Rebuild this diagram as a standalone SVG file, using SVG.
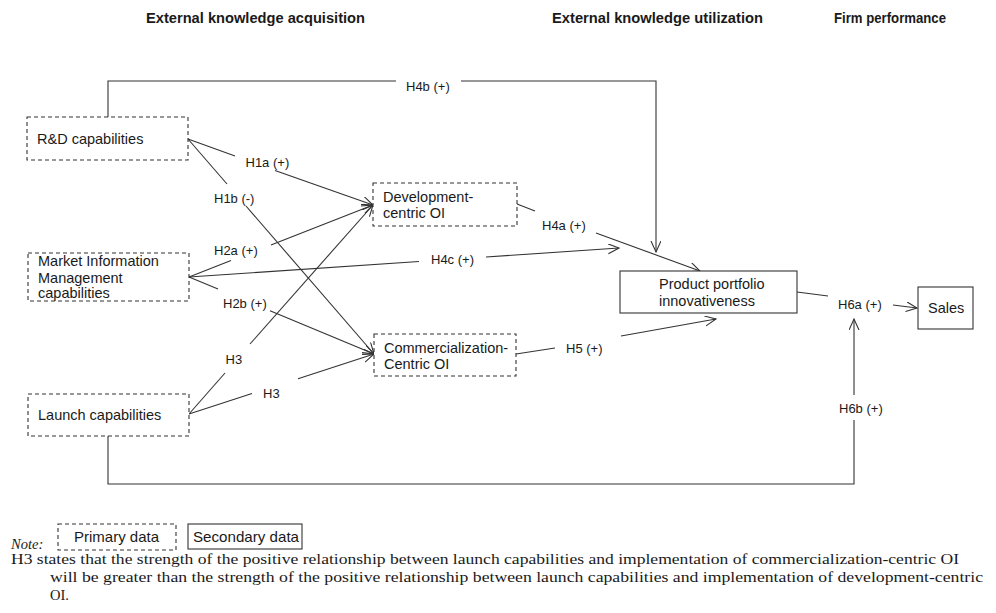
<svg xmlns="http://www.w3.org/2000/svg" width="996" height="613" viewBox="0 0 996 613">
<style>
.bg{fill:#fff}
.hdr{font-family:"Liberation Sans",Arial,sans-serif;font-weight:bold;font-size:14.5px;fill:#1a1a1a}
.nt{font-family:"Liberation Sans",Arial,sans-serif;font-size:14.5px;fill:#1a1a1a}
.lb{font-family:"Liberation Sans",Arial,sans-serif;font-size:13px;fill:#1a1a1a}
.lg{font-family:"Liberation Sans",Arial,sans-serif;font-size:15px;fill:#1a1a1a}
.note{font-family:"Liberation Serif","Times New Roman",serif;font-size:14.5px;fill:#1a1a1a}
.dash{fill:#fff;stroke:#333;stroke-width:1.1;stroke-dasharray:4 3}
.solid{fill:#fff;stroke:#333;stroke-width:1.1}
.ln{fill:none;stroke:#333;stroke-width:1.1}
.arr{fill:none;stroke:#333;stroke-width:1.1;marker-end:url(#ah)}
</style>
<defs>
<marker id="ah" markerUnits="userSpaceOnUse" markerWidth="14" markerHeight="12" refX="11" refY="5" orient="auto">
<path d="M0,0 L11,5 L0,10" fill="none" stroke="#333" stroke-width="1.1"/>
</marker>
</defs>
<rect class="bg" x="0" y="0" width="996" height="613"/>

<g id="headers">
<text class="hdr" x="146" y="23" textLength="219" lengthAdjust="spacingAndGlyphs">External knowledge acquisition</text>
<text class="hdr" x="552" y="23" textLength="211" lengthAdjust="spacingAndGlyphs">External knowledge utilization</text>
<text class="hdr" x="834" y="23" textLength="112" lengthAdjust="spacingAndGlyphs">Firm performance</text>
</g>

<g id="connectors">
<!-- H4b -->
<polyline class="ln" points="108,117 108,81 396,81"/>
<polyline class="arr" points="461,81 656,81 656,252"/>
<!-- H1a -->
<line class="ln" x1="188" y1="139" x2="235" y2="156"/>
<line class="arr" x1="275" y1="170.5" x2="373" y2="205"/>
<!-- H1b -->
<line class="ln" x1="188" y1="139" x2="227" y2="184"/>
<line class="arr" x1="246" y1="206" x2="374" y2="354"/>
<!-- H2a -->
<line class="ln" x1="189" y1="277" x2="231" y2="260.6"/>
<line class="arr" x1="271" y1="245" x2="373" y2="205"/>
<!-- H2b -->
<line class="ln" x1="189" y1="277" x2="218" y2="289"/>
<line class="arr" x1="270" y1="310.7" x2="374" y2="354"/>
<!-- H4c -->
<line class="ln" x1="189" y1="277" x2="419" y2="261.5"/>
<line class="arr" x1="486" y1="257" x2="619" y2="248"/>
<!-- H3 to dev -->
<line class="ln" x1="189" y1="414" x2="225" y2="373"/>
<line class="arr" x1="250" y1="344" x2="373" y2="205"/>
<!-- H3 to comm -->
<line class="ln" x1="189" y1="414" x2="252" y2="393.6"/>
<line class="arr" x1="298" y1="378.7" x2="374" y2="354"/>
<!-- H4a -->
<line class="ln" x1="517" y1="204" x2="535" y2="211"/>
<line class="arr" x1="596" y1="233" x2="700" y2="271"/>
<!-- H5 -->
<line class="ln" x1="516" y1="354" x2="555" y2="348"/>
<line class="arr" x1="621" y1="336" x2="716" y2="319"/>
<!-- H6a -->
<line class="ln" x1="797" y1="292" x2="828" y2="296"/>
<line class="arr" x1="893" y1="305" x2="917" y2="308"/>
<!-- H6b -->
<polyline class="ln" points="108,436 108,484 854,484 854,420"/>
<line class="arr" x1="854" y1="395" x2="854" y2="319"/>
</g>

<g id="labels">
<text class="lb" x="406" y="90.5">H4b (+)</text>
<text class="lb" x="245.5" y="166.5">H1a (+)</text>
<text class="lb" x="214" y="203">H1b (-)</text>
<text class="lb" x="214" y="254.5">H2a (+)</text>
<text class="lb" x="223" y="307.5">H2b (+)</text>
<text class="lb" x="431" y="263.5">H4c (+)</text>
<text class="lb" x="225.5" y="363.5">H3</text>
<text class="lb" x="263" y="397.5">H3</text>
<text class="lb" x="542" y="229.5">H4a (+)</text>
<text class="lb" x="566" y="352.5">H5 (+)</text>
<text class="lb" x="838" y="308.5">H6a (+)</text>
<text class="lb" x="839" y="412.5">H6b (+)</text>
</g>

<g id="node-rd">
<rect class="dash" x="27" y="117" width="161" height="43"/>
<text class="nt" x="37" y="144">R&amp;D capabilities</text>
</g>
<g id="node-mim">
<rect class="dash" x="28" y="253" width="161" height="48"/>
<text class="nt" x="38" y="266">Market Information</text>
<text class="nt" x="38" y="283">Management</text>
<text class="nt" x="38" y="298">capabilities</text>
</g>
<g id="node-launch">
<rect class="dash" x="28" y="394" width="161" height="42"/>
<text class="nt" x="38" y="420">Launch capabilities</text>
</g>
<g id="node-dev">
<rect class="dash" x="373" y="183" width="144" height="43"/>
<text class="nt" x="383" y="202">Development-</text>
<text class="nt" x="383" y="218">centric OI</text>
</g>
<g id="node-comm">
<rect class="dash" x="374" y="334" width="142" height="42"/>
<text class="nt" x="384" y="353">Commercialization-</text>
<text class="nt" x="384" y="369">Centric OI</text>
</g>
<g id="node-ppi">
<rect class="solid" x="620" y="271" width="177" height="42"/>
<text class="nt" x="659" y="289">Product portfolio</text>
<text class="nt" x="659" y="306">innovativeness</text>
</g>
<g id="node-sales">
<rect class="solid" x="918" y="287" width="55" height="42"/>
<text class="nt" x="928" y="313">Sales</text>
</g>

<g id="legend">
<text class="note" x="11" y="549" font-size="14" font-style="italic">Note:</text>
<rect class="dash" x="58" y="524" width="118" height="26"/>
<text class="lg" x="74" y="542">Primary data</text>
<rect class="solid" x="188" y="524" width="114" height="25"/>
<text class="lg" x="193" y="542" textLength="106" lengthAdjust="spacingAndGlyphs">Secondary data</text>
<text class="note" x="11" y="564" textLength="948" lengthAdjust="spacingAndGlyphs">H3 states that the strength of the positive relationship between launch capabilities and implementation of commercialization-centric OI</text>
<text class="note" x="50" y="582" textLength="933" lengthAdjust="spacingAndGlyphs">will be greater than the strength of the positive relationship between launch capabilities and implementation of development-centric</text>
<text class="note" x="50" y="600">OI.</text>
</g>
</svg>
